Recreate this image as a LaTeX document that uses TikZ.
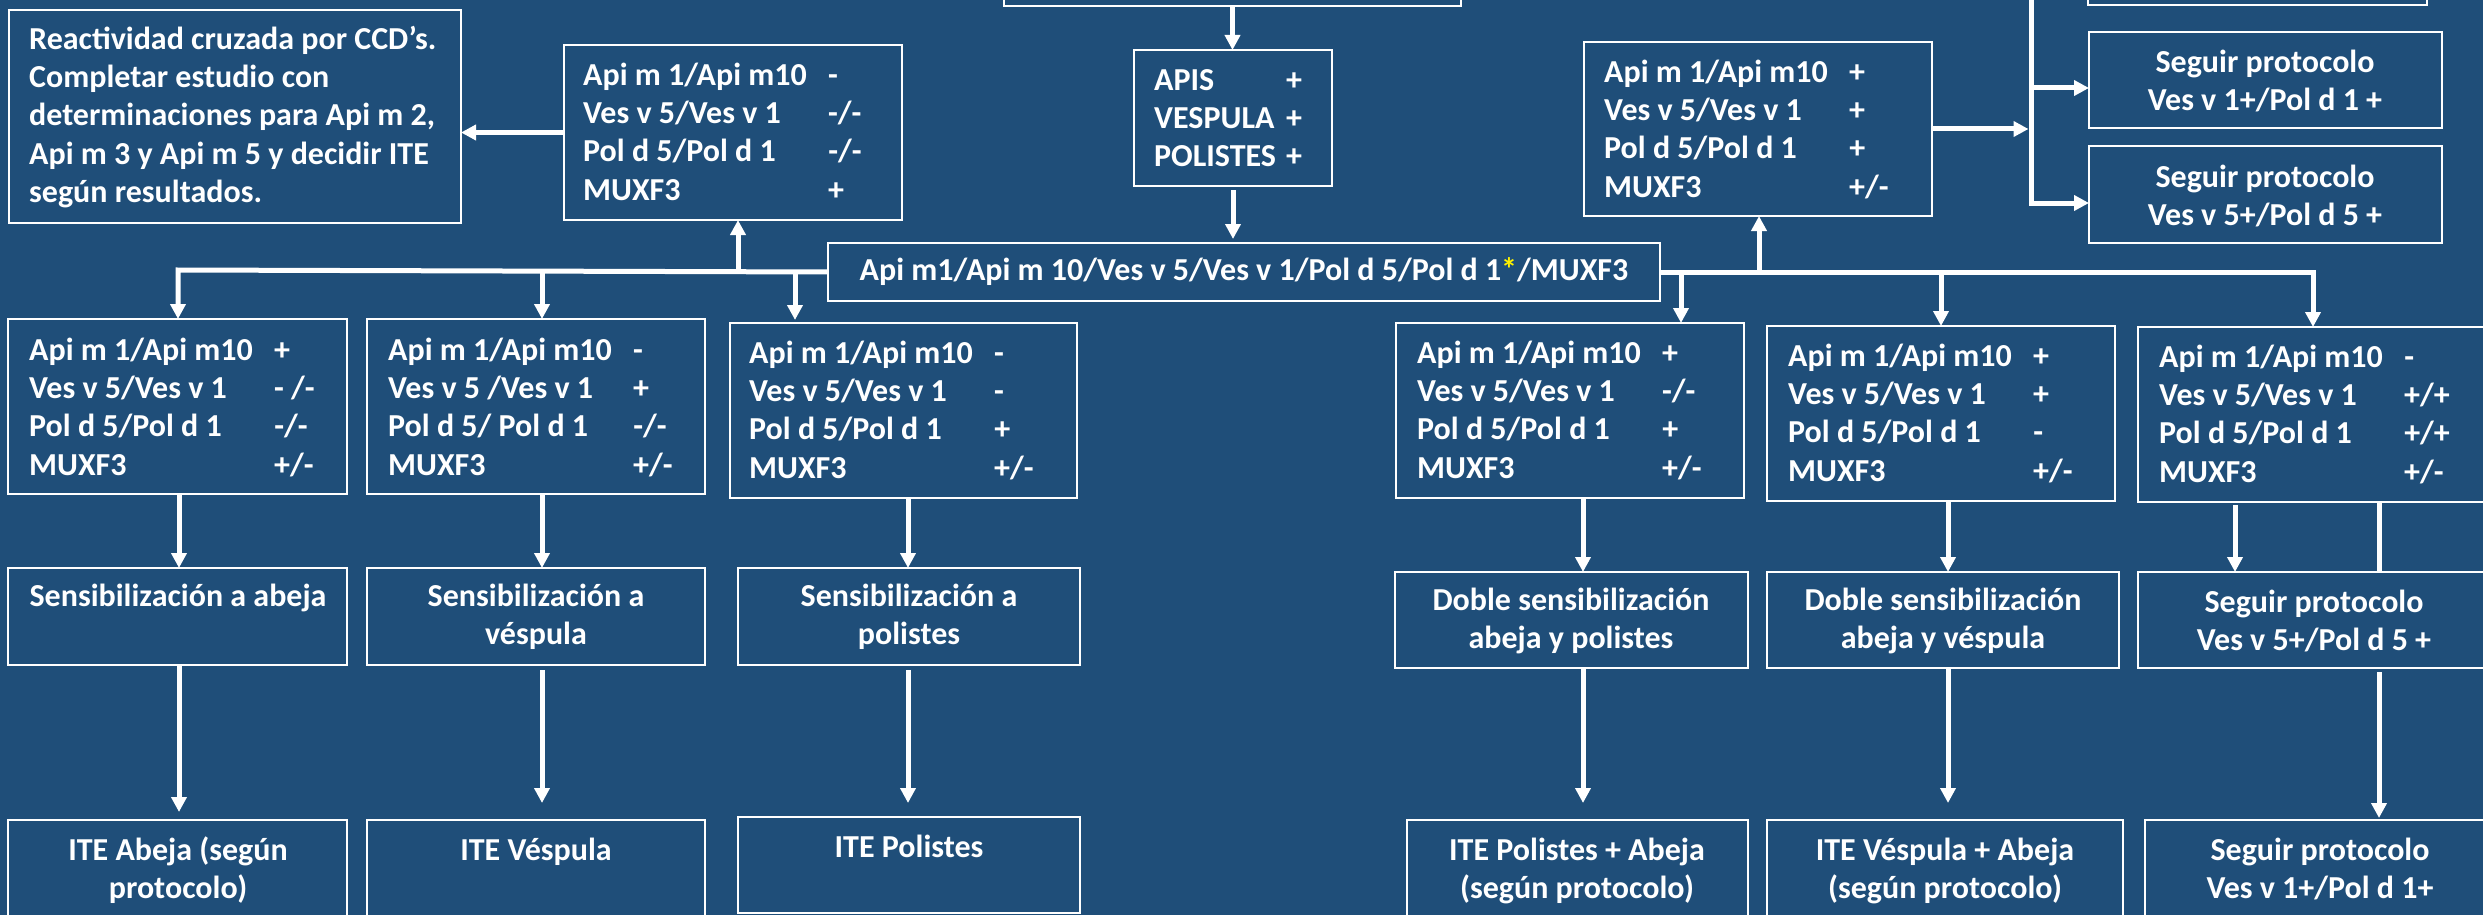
\documentclass[tikz,border=0pt]{standalone}
\usepackage{fontspec}
\setmainfont{Carlito}
\usetikzlibrary{arrows.meta}
\definecolor{bg}{RGB}{31,78,121}
\newcommand\fs{\fontsize{32}{38.4}\selectfont\bfseries}
% one result row: label, then value at a fixed tab stop
\newcommand\vrow[2]{\strut\makebox[245pt][l]{#1}#2}
\newcommand\arow[2]{\strut\makebox[132pt][l]{#1}#2}
% box from its corners: name, x1, y1, x2, y2 (pixel units, y downward)
\newcommand\bx[5]{\node[box, minimum width={#4-#2}, minimum height={#5-#3}] (#1) at ({(#2+#4)/2},{(#3+#5)/2}) {};}
\begin{document}
\begin{tikzpicture}[x=1pt,y=-1pt,
  box/.style={rectangle, draw=white, line width=2.5pt, fill=bg, inner sep=0pt, outer sep=0pt},
  txt/.style={text=white, font=\fs, inner sep=0pt},
  wire/.style={draw=white, line width=5pt},
  arr/.style={wire, -{Triangle[width=15pt,length=15pt]}},
]
\useasboundingbox (0,0) rectangle (2483,915);
\clip (0,0) rectangle (2483,915);
\fill[bg] (0,0) rectangle (2483,915);

% ---- boxes ----
\bx{T0}{1004}{-40}{1461}{6}
\bx{apis}{1134}{50}{1332}{186}
\node[box, txt, minimum width=832, minimum height=58] (main) at (1244,272)
  {Api m1/Api m 10/Ves v 5/Ves v 1/Pol d 5/Pol d 1{\color{yellow}*}/MUXF3};
\bx{La}{564}{45}{902}{220}
\bx{R}{9}{10}{461}{223}
\bx{Ra}{1584}{42}{1932}{216}
\bx{T1}{2088}{-40}{2427}{5}
\bx{S1}{2089}{32}{2442}{128}
\bx{S2}{2089}{146}{2442}{243}
\bx{b1}{8}{319}{347}{494}
\bx{b2}{367}{319}{705}{494}
\bx{b3}{730}{323}{1077}{498}
\bx{b4}{1396}{323}{1744}{498}
\bx{b5}{1767}{326}{2115}{501}
\bx{b6}{2138}{327}{2495}{502}
\bx{c1}{8}{568}{347}{665}
\bx{c2}{367}{568}{705}{665}
\bx{c3}{738}{568}{1080}{665}
\bx{c4}{1395}{572}{1748}{668}
\bx{c5}{1767}{572}{2119}{668}
\bx{c6}{2138}{572}{2490}{668}
\bx{d1}{8}{820}{347}{960}
\bx{d2}{367}{820}{705}{960}
\bx{d3}{738}{817}{1080}{913}
\bx{d4}{1407}{820}{1748}{960}
\bx{d5}{1767}{820}{2123}{960}
\bx{d6}{2145}{820}{2495}{960}

% ---- texts ----
\node[txt, align=left, anchor=north west] (apist) at (1154,63)
  {\arow{APIS}{+}\\\arow{VESPULA}{+}\\\arow{POLISTES}{+}};
\node[txt, align=left, anchor=north west] (Rt) at (29,22)
  {\strut Reactividad cruzada por CCD’s.\\\strut Completar estudio con\\\strut determinaciones para Api m 2,\\\strut Api m 3 y Api m 5 y decidir ITE\\\strut según resultados.};
\node[txt, align=left, anchor=north west] (Lat) at (583,58)
  {\vrow{Api m 1/Api m10}{-}\\\vrow{Ves v 5/Ves v 1}{-/-}\\\vrow{Pol d 5/Pol d 1}{-/-}\\\vrow{MUXF3}{+}};
\node[txt, align=left, anchor=north west] (Rat) at (1604,55)
  {\vrow{Api m 1/Api m10}{+}\\\vrow{Ves v 5/Ves v 1}{+}\\\vrow{Pol d 5/Pol d 1}{+}\\\vrow{MUXF3}{+/-}};
\node[txt, align=center, anchor=north] (S1t) at (2265,45) {\strut Seguir protocolo\\\strut Ves v 1+/Pol d 1 +};
\node[txt, align=center, anchor=north] (S2t) at (2265,160) {\strut Seguir protocolo\\\strut Ves v 5+/Pol d 5 +};

\node[txt, align=left, anchor=north west] (b1t) at (29,333)
  {\vrow{Api m 1/Api m10}{+}\\\vrow{Ves v 5/Ves v 1}{- /-}\\\vrow{Pol d 5/Pol d 1}{-/-}\\\vrow{MUXF3}{+/-}};
\node[txt, align=left, anchor=north west] (b2t) at (388,333)
  {\vrow{Api m 1/Api m10}{-}\\\vrow{Ves v 5 /Ves v 1}{+}\\\vrow{Pol d 5/ Pol d 1}{-/-}\\\vrow{MUXF3}{+/-}};
\node[txt, align=left, anchor=north west] (b3t) at (749,336)
  {\vrow{Api m 1/Api m10}{-}\\\vrow{Ves v 5/Ves v 1}{-}\\\vrow{Pol d 5/Pol d 1}{+}\\\vrow{MUXF3}{+/-}};
\node[txt, align=left, anchor=north west] (b4t) at (1417,336)
  {\vrow{Api m 1/Api m10}{+}\\\vrow{Ves v 5/Ves v 1}{-/-}\\\vrow{Pol d 5/Pol d 1}{+}\\\vrow{MUXF3}{+/-}};
\node[txt, align=left, anchor=north west] (b5t) at (1788,339)
  {\vrow{Api m 1/Api m10}{+}\\\vrow{Ves v 5/Ves v 1}{+}\\\vrow{Pol d 5/Pol d 1}{-}\\\vrow{MUXF3}{+/-}};
\node[txt, align=left, anchor=north west] (b6t) at (2159,340)
  {\vrow{Api m 1/Api m10}{-}\\\vrow{Ves v 5/Ves v 1}{+/+}\\\vrow{Pol d 5/Pol d 1}{+/+}\\\vrow{MUXF3}{+/-}};

\node[txt, align=center, anchor=north] (c1t) at (178,579) {\strut Sensibilización a abeja};
\node[txt, align=center, anchor=north] (c2t) at (536,579) {\strut Sensibilización a\\\strut véspula};
\node[txt, align=center, anchor=north] (c3t) at (909,579) {\strut Sensibilización a\\\strut polistes};
\node[txt, align=center, anchor=north] (c4t) at (1571,583) {\strut Doble sensibilización\\\strut abeja y polistes};
\node[txt, align=center, anchor=north] (c5t) at (1943,583) {\strut Doble sensibilización\\\strut abeja y véspula};
\node[txt, align=center, anchor=north] (c6t) at (2314,585) {\strut Seguir protocolo\\\strut Ves v 5+/Pol d 5 +};

\node[txt, align=center, anchor=north] (d1t) at (178,833) {\strut ITE Abeja (según\\\strut protocolo)};
\node[txt, align=center, anchor=north] (d2t) at (536,833) {\strut ITE Véspula};
\node[txt, align=center, anchor=north] (d3t) at (909,830) {\strut ITE Polistes};
\node[txt, align=center, anchor=north] (d4t) at (1577,833) {\strut ITE Polistes + Abeja\\\strut (según protocolo)};
\node[txt, align=center, anchor=north] (d5t) at (1945,833) {\strut ITE Véspula + Abeja\\\strut (según protocolo)};
\node[txt, align=center, anchor=north] (d6t) at (2320,833) {\strut Seguir protocolo\\\strut Ves v 1+/Pol d 1+};

% ---- junction points ----
\coordinate (busL) at (178,270);
\coordinate (jl2) at (542,270);
\coordinate (jl3) at (795,270);
\coordinate (jlu) at (738,270);
\coordinate (busR) at (2313,272);
\coordinate (jr1) at (1681,272);
\coordinate (jr2) at (1941,272);
\coordinate (jru) at (1759,272);
\coordinate (vtop) at (2031,-20);
\coordinate (vmid) at (2031,88);
\coordinate (vbot) at (2031,203);
\coordinate (vin) at (2031,129);
\coordinate (x1) at (179,0);
\coordinate (x2) at (542,0);
\coordinate (x3) at (908,0);
\coordinate (x4) at (1583,0);
\coordinate (x5) at (1948,0);
\coordinate (x6a) at (2235,0);
\coordinate (x6b) at (2379,0);

% ---- connectors ----
\draw[arr] (T0.south) -- (T0.south |- apis.north);
\draw[arr, shorten <=4pt, shorten >=4pt] (apis.south) -- (apis.south |- main.north);
\draw[arr] (main.west) -- (busL) -- (busL |- b1.north);
\draw[arr] (jl2) -- (jl2 |- b2.north);
\draw[arr, shorten >=3pt] (jl3) -- (jl3 |- b3.north);
\draw[arr] (jlu) -- (jlu |- La.south);
\draw[arr] (La.west) -- (La.west -| R.east);
\draw[arr] (main.east) -- (busR) -- (busR |- b6.north);
\draw[arr] (jr1) -- (jr1 |- b4.north);
\draw[arr] (jr2) -- (jr2 |- b5.north);
\draw[arr] (jru) -- (jru |- Ra.south);
\draw[arr, shorten >=2.5pt] (Ra.east) -- (vin);
\draw[wire] (vtop) -- (vmid);
\draw[arr] (vmid) -- (vmid -| S1.west);
\draw[arr] (vmid) -- (vbot) -- (vbot -| S2.west);

\draw[arr] (x1 |- b1.south) -- (x1 |- c1.north);
\draw[arr] (x2 |- b2.south) -- (x2 |- c2.north);
\draw[arr] (x3 |- b3.south) -- (x3 |- c3.north);
\draw[arr] (x4 |- b4.south) -- (x4 |- c4.north);
\draw[arr] (x5 |- b5.south) -- (x5 |- c5.north);
\draw[arr, shorten <=3pt] (x6a |- b6.south) -- (x6a |- c6.north);
\draw[wire] (x6b |- b6.south) -- (x6b |- c6.north);

\draw[arr, shorten >=8pt] (x1 |- c1.south) -- (x1 |- d1.north);
\draw[arr, shorten <=5pt, shorten >=17pt] (x2 |- c2.south) -- (x2 |- d2.north);
\draw[arr, shorten <=5pt, shorten >=14pt] (x3 |- c3.south) -- (x3 |- d3.north);
\draw[arr, shorten >=17pt] (x4 |- c4.south) -- (x4 |- d4.north);
\draw[arr, shorten >=17pt] (x5 |- c5.south) -- (x5 |- d5.north);
\draw[arr, shorten <=4pt, shorten >=2pt] (x6b |- c6.south) -- (x6b |- d6.north);
\end{tikzpicture}
\end{document}
